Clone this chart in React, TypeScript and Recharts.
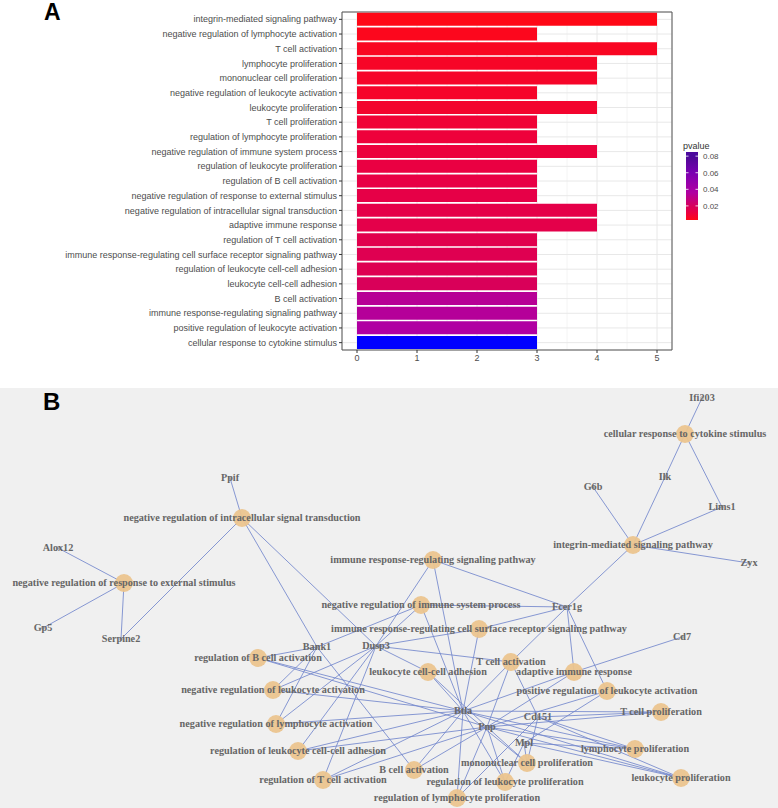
import React from "react";
import {
  BarChart,
  Bar,
  Cell,
  XAxis,
  YAxis,
  CartesianGrid,
  ReferenceArea,
  Legend,
  ComposedChart,
  Line,
  Scatter,
} from "recharts";

// ---- panel A: enriched GO terms ----
const terms = [
  "integrin-mediated signaling pathway",
  "negative regulation of lymphocyte activation",
  "T cell activation",
  "lymphocyte proliferation",
  "mononuclear cell proliferation",
  "negative regulation of leukocyte activation",
  "leukocyte proliferation",
  "T cell proliferation",
  "regulation of lymphocyte proliferation",
  "negative regulation of immune system process",
  "regulation of leukocyte proliferation",
  "regulation of B cell activation",
  "negative regulation of response to external stimulus",
  "negative regulation of intracellular signal transduction",
  "adaptive immune response",
  "regulation of T cell activation",
  "immune response-regulating cell surface receptor signaling pathway",
  "regulation of leukocyte cell-cell adhesion",
  "leukocyte cell-cell adhesion",
  "B cell activation",
  "immune response-regulating signaling pathway",
  "positive regulation of leukocyte activation",
  "cellular response to cytokine stimulus",
];
const geneCounts = [5, 3, 5, 4, 4, 3, 4, 3, 3, 4, 3, 3, 3, 4, 4, 3, 3, 3, 3, 3, 3, 3, 3];
const pvalues = [
  0.003, 0.0045, 0.0055, 0.0065, 0.0068, 0.007, 0.008, 0.0095, 0.0105, 0.011, 0.012, 0.013,
  0.0135, 0.014, 0.0145, 0.0155, 0.0165, 0.017, 0.019, 0.033, 0.034, 0.036, 0.085,
];
const countTicks = [0, 1, 2, 3, 4, 5];
const minorTicks = [0.5, 1.5, 2.5, 3.5, 4.5];
const legendTicks = [0.02, 0.04, 0.06, 0.08];

// ---- panel B: term-gene network (layout coordinates) ----
const termX = [633, 276, 511, 635, 527, 273, 681, 661, 457, 421, 505, 258, 124, 242, 574, 323, 479, 298, 428, 414, 433, 607, 685];
const termY = [157, 336, 274, 361, 375, 302, 390, 324, 410, 217, 394, 270, 195, 130, 284, 392, 241, 363, 284, 382, 172, 303, 46];
const genes = ["Ifi203", "Ilk", "Lims1", "G6b", "Zyx", "Ppif", "Alox12", "Gp5", "Serpine2", "Fcer1g", "Cd7", "Bank1", "Dusp3", "Btla", "Pnp", "Cd151", "Mpl"];
const geneX = [702, 665, 722, 593, 749, 230, 58, 43, 121, 567, 682, 317, 376, 463, 487, 538, 524];
const geneY = [10, 89, 119, 99, 175, 90, 160, 240, 251, 219, 249, 259, 258, 323, 339, 329, 355];
const termGenes = [
  ["Ilk", "Lims1", "G6b", "Zyx", "Fcer1g"],
  ["Bank1", "Dusp3", "Btla"],
  ["Fcer1g", "Dusp3", "Btla", "Pnp", "Cd151"],
  ["Btla", "Pnp", "Cd151", "Mpl"],
  ["Btla", "Pnp", "Cd151", "Mpl"],
  ["Bank1", "Dusp3", "Btla"],
  ["Btla", "Pnp", "Cd151", "Mpl"],
  ["Btla", "Pnp", "Cd151"],
  ["Btla", "Pnp", "Cd151"],
  ["Fcer1g", "Bank1", "Dusp3", "Btla"],
  ["Btla", "Pnp", "Mpl"],
  ["Bank1", "Btla", "Pnp"],
  ["Alox12", "Gp5", "Serpine2"],
  ["Ppif", "Serpine2", "Bank1", "Dusp3"],
  ["Fcer1g", "Cd7", "Btla", "Pnp"],
  ["Dusp3", "Btla", "Pnp"],
  ["Fcer1g", "Dusp3", "Btla"],
  ["Dusp3", "Btla", "Pnp"],
  ["Dusp3", "Btla", "Pnp"],
  ["Bank1", "Btla", "Pnp"],
  ["Fcer1g", "Dusp3", "Btla"],
  ["Fcer1g", "Pnp", "Mpl"],
  ["Ifi203", "Ilk", "Lims1"],
];

// colour scale for pvalue (red -> purple -> blue)
const pMin = Math.min(...pvalues);
const pMax = Math.max(...pvalues);
const colourStops: [number, number[]][] = [
  [0.003, [255, 8, 22]],
  [0.012, [234, 0, 66]],
  [0.02, [214, 0, 92]],
  [0.036, [176, 0, 162]],
  [0.06, [122, 0, 178]],
  [0.078, [80, 10, 150]],
  [0.085, [0, 0, 255]],
];
function pColor(p: number) {
  if (p <= colourStops[0][0]) return `rgb(${colourStops[0][1].join(",")})`;
  for (let i = 1; i < colourStops.length; i++) {
    const [p1, c1] = colourStops[i];
    const [p0, c0] = colourStops[i - 1];
    if (p <= p1) {
      const t = (p - p0) / (p1 - p0);
      const c = c0.map((v, k) => Math.round(v + (c1[k] - v) * t));
      return `rgb(${c.join(",")})`;
    }
  }
  return `rgb(${colourStops[colourStops.length - 1][1].join(",")})`;
}

const barData = terms.map((term, i) => ({ term, count: geneCounts[i], pvalue: pvalues[i] }));

const termNodes = terms.map((name, i) => ({ name, x: termX[i], y: termY[i] }));
const geneNodes = genes.map((name, i) => ({ name, x: geneX[i], y: geneY[i] }));
// all edges in one series: term -> gene, then a gap
const edgePoints = termGenes.flatMap((list, i) =>
  list.flatMap((g) => {
    const gi = genes.indexOf(g);
    return [
      { x: termX[i], y: termY[i] },
      { x: geneX[gi], y: geneY[gi] },
      { x: geneX[gi], y: null },
    ];
  })
);

const sans = "'Liberation Sans', Arial, sans-serif";
const serif = "'Liberation Serif', 'Times New Roman', serif";
const edgeColour = "#7387cc";

function ColorBar() {
  const h = 68;
  const w = 12;
  const pos = (p: number) => 12 + h - ((p - pMin) / (pMax - pMin)) * h;
  const samples = [0, 0.1, 0.2, 0.3, 0.4, 0.5, 0.6, 0.7, 0.8, 0.9, 0.94, 1];
  return (
    <svg width={70} height={90} style={{ overflow: "visible" }}>
      <defs>
        <linearGradient id="pvGrad" x1="0" y1="1" x2="0" y2="0">
          {samples.map((t) => (
            <stop key={t} offset={t} stopColor={pColor(pMin + Math.min(t, 0.92) * (pMax - pMin))} />
          ))}
        </linearGradient>
      </defs>
      <text x={0} y={9} fontFamily={sans} fontSize={9} fill="#333">
        pvalue
      </text>
      <rect x={3} y={12} width={w} height={h} fill="url(#pvGrad)" />
      {legendTicks.map((p) => (
        <g key={p}>
          <line x1={3} x2={5.5} y1={pos(p)} y2={pos(p)} stroke="#fff" strokeWidth={0.8} />
          <line x1={3 + w - 2.5} x2={3 + w} y1={pos(p)} y2={pos(p)} stroke="#fff" strokeWidth={0.8} />
          <text x={20} y={pos(p)} dy="0.35em" fontFamily={sans} fontSize={8} fill="#4d4d4d">
            {p.toFixed(2)}
          </text>
        </g>
      ))}
    </svg>
  );
}

const TermTick = (props: any) => (
  <text
    x={props.x}
    y={props.y}
    dy="0.35em"
    textAnchor="end"
    fontFamily={sans}
    fontSize={9}
    fill="#4d4d4d"
  >
    {props.payload.value}
  </text>
);

const termCircle = (props: any) => (
  <circle cx={props.cx} cy={props.cy} r={9} fill="#ebc48e" fillOpacity={0.95} />
);

const geneDot = (props: any) => (
  <circle cx={props.cx} cy={props.cy} r={2} fill="#a8a8a8" fillOpacity={0.7} />
);

const nodeLabel = (props: any) => (
  <text
    x={props.cx}
    y={props.cy}
    dy="0.33em"
    textAnchor="middle"
    fontFamily={serif}
    fontWeight="bold"
    fontSize={10.2}
    fill="#666666"
  >
    {props.payload.name}
  </text>
);

export default function App() {
  return (
    <div style={{ position: "absolute", left: 0, top: 0, width: 778, height: 808, background: "#fff" }}>
      <div style={{ position: "absolute", left: 0, top: 0 }}>
        <BarChart
          width={778}
          height={380}
          data={barData}
          layout="vertical"
          margin={{ top: 12, right: 106, left: 0, bottom: 8 }}
          barCategoryGap="5%"
        >
          <CartesianGrid stroke="#f4f4f4" horizontal={false} verticalValues={minorTicks} />
          <CartesianGrid stroke="#e8e8e8" />
          <XAxis
            type="number"
            dataKey="count"
            domain={[-0.25, 5.25]}
            ticks={countTicks}
            allowDataOverflow
            axisLine={false}
            tickLine={{ stroke: "#333" }}
            tickSize={3}
            tickMargin={2}
            height={22}
            tick={{ fontFamily: sans, fontSize: 9, fill: "#4d4d4d" }}
          />
          <YAxis
            type="category"
            dataKey="term"
            width={342}
            interval={0}
            axisLine={false}
            tickLine={{ stroke: "#333" }}
            tickSize={3}
            tickMargin={2}
            tick={TermTick}
          />
          <Bar dataKey="count" isAnimationActive={false}>
            {barData.map((d) => (
              <Cell key={d.term} fill={pColor(d.pvalue)} />
            ))}
          </Bar>
          <ReferenceArea x1={-0.25} x2={5.25} fill="none" stroke="#555" strokeWidth={1} ifOverflow="visible" />
          <Legend
            content={ColorBar}
            layout="horizontal"
            verticalAlign="middle"
            align="center"
            wrapperStyle={{ left: 683, top: 140, width: 70, height: 90 }}
          />
        </BarChart>
      </div>
      <div
        style={{
          position: "absolute",
          left: 44,
          top: 1,
          fontFamily: sans,
          fontWeight: "bold",
          fontSize: 23,
          lineHeight: 1,
          color: "#000",
        }}
      >
        A
      </div>

      <div style={{ position: "absolute", left: 0, top: 388, width: 778, height: 420, background: "#f0f0f0" }}>
        <ComposedChart width={778} height={420} margin={{ top: 0, right: 0, bottom: 0, left: 0 }}>
          <XAxis type="number" dataKey="x" domain={[0, 778]} hide allowDataOverflow />
          <YAxis type="number" dataKey="y" domain={[0, 420]} reversed hide allowDataOverflow />
          <Line
            data={edgePoints}
            dataKey="y"
            type="linear"
            stroke={edgeColour}
            strokeWidth={0.85}
            dot={false}
            activeDot={false}
            connectNulls={false}
            legendType="none"
            isAnimationActive={false}
          />
          <Scatter data={termNodes} dataKey="y" fill="#ebc48e" shape={termCircle} isAnimationActive={false} />
          <Scatter data={geneNodes} dataKey="y" fill="#a8a8a8" shape={geneDot} isAnimationActive={false} />
          <Scatter
            data={[...termNodes, ...geneNodes]}
            dataKey="y"
            fill="#666"
            shape={nodeLabel}
            isAnimationActive={false}
          />
        </ComposedChart>
      </div>
      <div
        style={{
          position: "absolute",
          left: 43,
          top: 390,
          fontFamily: sans,
          fontWeight: "bold",
          fontSize: 24,
          lineHeight: 1,
          color: "#000",
        }}
      >
        B
      </div>
    </div>
  );
}
